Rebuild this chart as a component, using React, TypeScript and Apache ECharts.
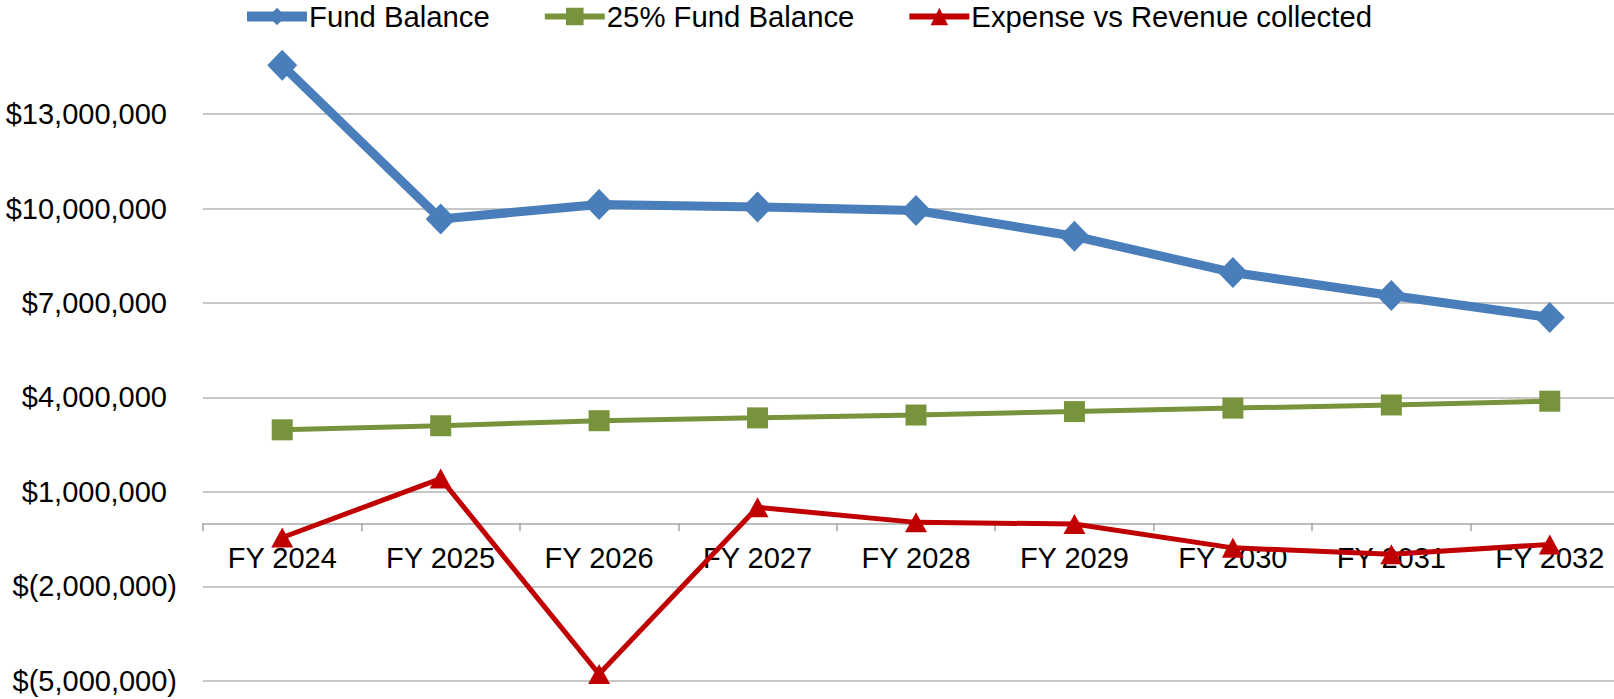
import React, { useEffect, useRef } from "react";
import * as echarts from "echarts";

const categories = ["FY 2024", "FY 2025", "FY 2026", "FY 2027", "FY 2028", "FY 2029", "FY 2030", "FY 2031", "FY 2032"];
const fundBalance = [14550000, 9670000, 10130000, 10050000, 9940000, 9120000, 7970000, 7240000, 6540000];
const fundBalance25 = [2970000, 3100000, 3260000, 3350000, 3440000, 3550000, 3660000, 3760000, 3880000];
const expenseVsRevenue = [-450000, 1420000, -4790000, 510000, 30000, -20000, -780000, -980000, -670000];
const seriesNames = ["Fund Balance", "25% Fund Balance", "Expense vs Revenue collected"];
const yMin = -5000000;
const yMax = 16000000;
const yInterval = 3000000;

const FONT = "'Liberation Sans', Arial, sans-serif";
const W = 1614;
const H = 699;
const GRID_TOP = 19.7;
const GRID_BOTTOM = 18.3;

function fmtMoney(v: number): string {
  const abs = Math.abs(v).toLocaleString("en-US");
  return v < 0 ? `{neg|$(${abs})}` : `{pos|$${abs}}`;
}

export default function App() {
  const ref = useRef<HTMLDivElement>(null);
  useEffect(() => {
    if (!ref.current) return;
    const chart = echarts.init(ref.current, undefined, { renderer: "svg" });
    const nTicks = Math.round((yMax - yMin) / yInterval) + 1;
    const gridColors = Array.from({ length: nTicks }, (_, i) => (i === nTicks - 1 ? "rgba(0,0,0,0)" : "#b5b5b5"));
    const plotH = H - GRID_TOP - GRID_BOTTOM;
    const zeroOffset = ((0 - yMin) / (yMax - yMin)) * plotH;
    chart.setOption({
      animation: false,
      backgroundColor: "#ffffff",
      textStyle: { fontFamily: FONT },
      legend: {
        data: [
          { name: seriesNames[0], lineStyle: { width: 10 } },
          { name: seriesNames[1], lineStyle: { width: 6 } },
          { name: seriesNames[2], lineStyle: { width: 6 } },
        ],
        top: -3,
        left: "center",
        itemWidth: 60,
        itemHeight: 22,
        itemGap: 52,
        textStyle: { fontSize: 29.3, color: "#000", fontFamily: FONT, padding: [0, 0, 0, -3] },
      },
      grid: { left: 203, right: -15, top: GRID_TOP, bottom: GRID_BOTTOM, containLabel: false, outerBoundsMode: "none" },
      xAxis: {
        type: "category",
        data: categories,
        boundaryGap: true,
        position: "bottom",
        offset: -zeroOffset,
        axisLine: { onZero: false, lineStyle: { color: "#a6a6a6", width: 1.5 } },
        axisTick: { show: true, length: 8, lineStyle: { color: "#a6a6a6", width: 1.5 } },
        axisLabel: { fontSize: 29, color: "#000", margin: 20, fontFamily: FONT },
        splitLine: { show: false },
      },
      yAxis: {
        type: "value",
        min: yMin,
        max: yMax,
        interval: yInterval,
        axisLine: { show: false },
        axisTick: { show: false },
        axisLabel: {
          fontSize: 29,
          color: "#000",
          margin: 26,
          fontFamily: FONT,
          showMaxLabel: false,
          formatter: (v: number) => fmtMoney(v),
          rich: {
            pos: { fontSize: 29, color: "#000", fontFamily: FONT, padding: [0, 10, 0, 0] },
            neg: { fontSize: 29, color: "#000", fontFamily: FONT },
          },
        },
        splitLine: { show: true, lineStyle: { color: gridColors, width: 1.5 } },
      },
      series: [
        {
          name: seriesNames[0],
          type: "line",
          data: fundBalance,
          symbol: "diamond",
          symbolSize: [30, 31],
          lineStyle: { color: "#4a7ebb", width: 9 },
          itemStyle: { color: "#4a7ebb" },
          z: 3,
        },
        {
          name: seriesNames[1],
          type: "line",
          data: fundBalance25,
          symbol: "rect",
          symbolSize: 21,
          lineStyle: { color: "#77933c", width: 5 },
          itemStyle: { color: "#77933c" },
          z: 4,
        },
        {
          name: seriesNames[2],
          type: "line",
          data: expenseVsRevenue,
          symbol: "triangle",
          symbolSize: [22, 20],
          lineStyle: { color: "#c00000", width: 5 },
          itemStyle: { color: "#c00000" },
          z: 5,
        },
      ],
    });
    return () => chart.dispose();
  }, []);
  return <div ref={ref} style={{ position: "fixed", left: 0, top: 0, width: W, height: H }} />;
}
